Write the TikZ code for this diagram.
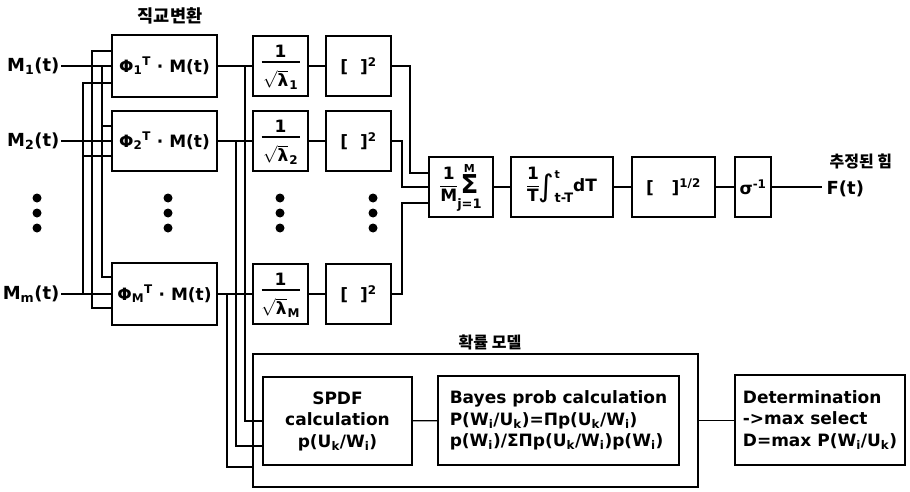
\documentclass[tikz,border=0pt]{standalone}
\usepackage{fontspec}
\setmainfont{DejaVu Sans}
\newfontfamily\kr{Noto Sans CJK KR}
\setlength{\arrayrulewidth}{1.2pt}
\newcommand{\fracbox}[2]{\begin{tabular}{@{}c@{}}#1\\[0pt]\hline\rule{0pt}{15pt}#2\end{tabular}}
\begin{document}
\begin{tikzpicture}[x=1pt,y=-1pt,line width=1.3pt,
  blk/.style={draw,line width=1.5pt,inner sep=1pt,font=\bfseries\fontsize{17}{19}\selectfont},
  txt/.style={inner sep=0pt,font=\bfseries\fontsize{17}{19}\selectfont},
  lab/.style={font=\bfseries\fontsize{18}{20}\selectfont,inner sep=1pt},
  btx/.style={font=\bfseries\fontsize{17}{21.5}\selectfont},
  krl/.style={font=\kr\bfseries\fontsize{16}{18}\selectfont,inner sep=0pt}]
\useasboundingbox (0,0) rectangle (910,492);
% titles
\node[krl,font=\kr\bfseries\fontsize{17.5}{19}\selectfont] (t1) at (170,16) {직교변환};
\node[krl] (t2) at (490,342) {확률 모델};
\node[krl,anchor=west] (t3) at (829,161) {추정된 힘};
% inputs
\node[lab,anchor=east] (m1) at (61,66) {M\textsubscript{1}(t)};
\node[lab,anchor=east] (m2) at (61,141) {M\textsubscript{2}(t)};
\node[lab,anchor=east] (mm) at (61,294) {M\textsubscript{m}(t)};
% phi boxes
\node[blk,minimum width=105pt,minimum height=62pt] (p1) at (164.5,66) {Φ\textsubscript{1}\textsuperscript{T} · M(t)};
\node[blk,minimum width=105pt,minimum height=60pt] (p2) at (164.5,141) {Φ\textsubscript{2}\textsuperscript{T} · M(t)};
\node[blk,minimum width=105pt,minimum height=62pt] (pM) at (164.5,294) {Φ\textsubscript{M}\textsuperscript{T} · M(t)};
% lambda boxes
\foreach \nm/\yy/\sb in {l1/66/1,l2/141/2,lM/294/M}{
  \node[blk,minimum width=55pt,minimum height=60pt] (\nm) at (280.5,\yy) {};
  \node[txt] (\nm n) at ([yshift=15pt]\nm.center) {1};
  \draw[line width=1.2pt] ([xshift=-19pt,yshift=4pt]\nm.center) -- ([xshift=19pt,yshift=4pt]\nm.center);
  \node[txt] (\nm d) at ([yshift=-14pt]\nm.center) {$\sqrt{\mbox{\bfseries λ}}$\kern1pt\raisebox{-3pt}{\fontsize{12}{12}\selectfont\sb}};
}
% square boxes
\node[blk,minimum width=65pt,minimum height=60pt] (s1) at (358.5,66) {[\ \ ]\textsuperscript{2}};
\node[blk,minimum width=65pt,minimum height=60pt] (s2) at (358.5,141) {[\ \ ]\textsuperscript{2}};
\node[blk,minimum width=65pt,minimum height=60pt] (sM) at (358.5,294) {[\ \ ]\textsuperscript{2}};
% chain
\node[blk,minimum width=64pt,minimum height=60pt,inner sep=0pt] (sum) at (461,187) {\fracbox{1}{M}\begin{tabular}[c]{@{}c@{}}\fontsize{11}{11}\selectfont M\\[-4pt]\fontsize{26}{26}\selectfont Σ\\[-4pt]\fontsize{13}{13}\selectfont j=1\end{tabular}};
\node[blk,minimum width=102pt,minimum height=60pt,inner sep=0pt] (int) at (562,187) {\fracbox{1}{T}\raisebox{-5pt}{\fontsize{30}{30}\selectfont\mdseries ∫}\begin{tabular}[c]{@{}l@{}}\fontsize{11}{11}\selectfont t\\[5pt]\fontsize{13}{13}\selectfont t-T\end{tabular}dT};
\node[blk,minimum width=83pt,minimum height=60pt] (pw) at (673.5,187) {[\ \ \ ]\textsuperscript{1/2}};
\node[blk,minimum width=36pt,minimum height=60pt,inner sep=0pt] (sig) at (753,187) {σ\textsuperscript{-1}};
\coordinate (fo) at (822,187);
\node[lab,anchor=west] (ft) at (825,189) {F(t)};
% dots
\foreach \xx in {37,168,280,373}
  \foreach \yy in {198,213,228}
    \fill (\xx,\yy) circle (4.5pt);
% probability model
\node[draw,line width=1.5pt,minimum width=445pt,minimum height=133pt] (outer) at (475.5,420.5) {};
\node[blk,btx,minimum width=149pt,minimum height=88pt,align=center] (spdf) at (337.5,421) {SPDF\\calculation\\p(U\textsubscript{k}/W\textsubscript{i})};
\node[blk,btx,minimum width=241pt,minimum height=89pt,align=left,inner sep=0pt] (bayes) at (558.5,420.5) {Bayes prob calculation\\P(W\textsubscript{i}/U\textsubscript{k})=Πp(U\textsubscript{k}/W\textsubscript{i})\\p(W\textsubscript{i})/ΣΠp(U\textsubscript{k}/W\textsubscript{i})p(W\textsubscript{i})};
\node[blk,btx,minimum width=170pt,minimum height=90pt,align=left,inner sep=0pt] (det) at (820,420) {Determination\\->max select\\D=max P(W\textsubscript{i}/U\textsubscript{k})};
% input lines
\draw (m1.east) -- (p1.west);
\draw (m2.east) -- (p2.west);
\draw (mm.east) -- (pM.west);
% cross wiring
\draw ([yshift=15pt]p1.west) -| (92,300) |- ([yshift=-14pt]pM.west);
\draw ([yshift=-17pt]p1.west) -| (83,294);
\draw (102,66) |- ([yshift=17pt]pM.west);
\draw (102,126) -- ([yshift=15pt]p2.west);
\draw (83,156) -- ([yshift=-15pt]p2.west);
% row connections
\draw (p1.east) -- (l1.west) (l1.east) -- (s1.west);
\draw (p2.east) -- (l2.west) (l2.east) -- (s2.west);
\draw (pM.east) -- (lM.west) (lM.east) -- (sM.west);
% to probability model
\draw (245,66) |- (spdf.west);
\draw (236,141) |- ([yshift=-25pt]spdf.west);
\draw (227,294) |- ([yshift=-46.5pt]outer.west);
% squares to sum
\draw (s1.east) -| (410,173) -- ([yshift=14pt]sum.west);
\draw (s2.east) -| (402,187) -- (sum.west);
\draw (sM.east) -| (402,203) -- ([yshift=-16pt]sum.west);
% chain
\draw (sum) -- (int) (int) -- (pw) (pw) -- (sig) (sig.east) -- (fo);
% bottom
\draw (spdf) -- (bayes);
\draw (outer.east) -- (outer.east -| det.west);
\end{tikzpicture}
\end{document}
